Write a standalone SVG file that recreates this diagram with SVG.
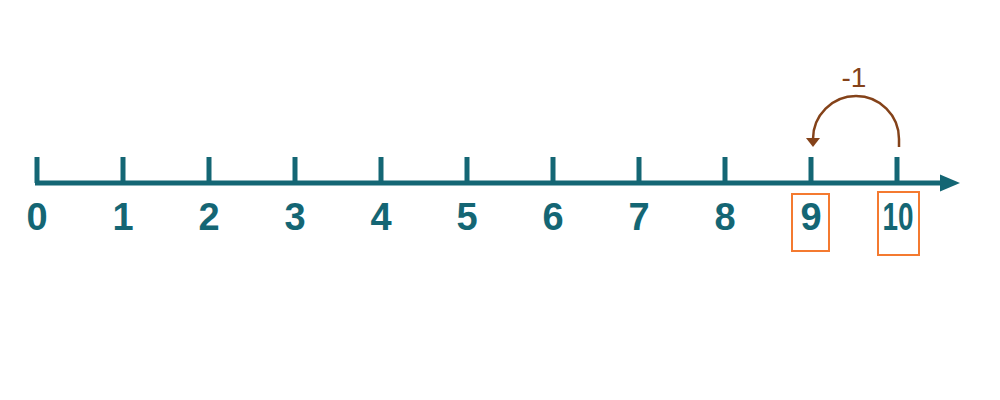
<svg xmlns="http://www.w3.org/2000/svg" width="1000" height="400" viewBox="0 0 1000 400">
<style>
.axis{stroke:#146674;stroke-width:5;fill:none}
.tick{stroke:#146674;stroke-width:5}
.lbl{font-family:"Liberation Sans",Arial,sans-serif;font-weight:bold;font-size:38px;fill:#146674;text-anchor:middle}
.box{fill:none;stroke:#f47a30;stroke-width:2}
.jump{stroke:#844219;stroke-width:2.5;fill:none}
.jlbl{font-family:"Liberation Sans",Arial,sans-serif;font-size:28px;fill:#844219;text-anchor:middle}
</style>
<rect width="1000" height="400" fill="#ffffff"/>
<g id="axis">
<line class="axis" x1="35" y1="183" x2="944" y2="183"/>
<polygon points="940,174.5 960,183 940,191.5" fill="#146674"/>
</g>
<g id="ticks">
<line class="tick" x1="37" y1="157" x2="37" y2="183"/>
<line class="tick" x1="123" y1="157" x2="123" y2="183"/>
<line class="tick" x1="209" y1="157" x2="209" y2="183"/>
<line class="tick" x1="295" y1="157" x2="295" y2="183"/>
<line class="tick" x1="381" y1="157" x2="381" y2="183"/>
<line class="tick" x1="467" y1="157" x2="467" y2="183"/>
<line class="tick" x1="553" y1="157" x2="553" y2="183"/>
<line class="tick" x1="639" y1="157" x2="639" y2="183"/>
<line class="tick" x1="725" y1="157" x2="725" y2="183"/>
<line class="tick" x1="811" y1="157" x2="811" y2="183"/>
<line class="tick" x1="897" y1="157" x2="897" y2="183"/>
</g>
<g id="labels">
<text class="lbl" x="37" y="230">0</text>
<text class="lbl" x="123" y="230">1</text>
<text class="lbl" x="209" y="230">2</text>
<text class="lbl" x="295" y="230">3</text>
<text class="lbl" x="381" y="230">4</text>
<text class="lbl" x="467" y="230">5</text>
<text class="lbl" x="553" y="230">6</text>
<text class="lbl" x="639" y="230">7</text>
<text class="lbl" x="725" y="230">8</text>
<text class="lbl" x="811" y="230">9</text>
<text class="lbl" x="898" y="230" textLength="31" lengthAdjust="spacingAndGlyphs">10</text>
</g>
<g id="highlight-9"><rect class="box" x="792" y="194" width="37" height="57"/></g>
<g id="highlight-10"><rect class="box" x="878" y="192" width="41" height="63"/></g>
<g id="connectors">
<path class="jump" d="M899,147 L899,139 A43,43 0 0 0 813,139 L813,140"/>
<polygon points="806,138 820,138 813,147" fill="#844219"/>
</g>
<g id="jump-label"><text class="jlbl" x="854" y="87">-1</text></g>
</svg>
